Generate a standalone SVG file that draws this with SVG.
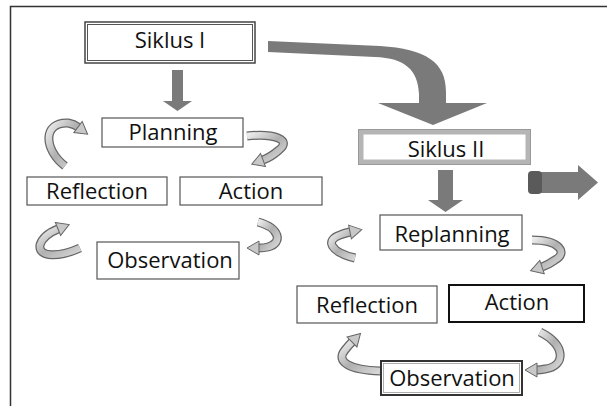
<svg xmlns="http://www.w3.org/2000/svg" width="607" height="406" viewBox="0 0 607 406">
<style>
text{font-family:"Open Sans","Liberation Sans",sans-serif;font-size:22px;fill:#111;text-anchor:middle}
.box{fill:#fff;stroke:#555;stroke-width:1.2}
.big{fill:#7a7a7a}
.ro{fill:none;stroke:#666;stroke-width:9;stroke-linecap:butt}
.ri{fill:none;stroke:url(#rg);stroke-width:6.5;stroke-linecap:butt}
</style>
<defs>
<linearGradient id="rg" x1="0" y1="0" x2="1" y2="1">
<stop offset="0" stop-color="#ececec"/>
<stop offset="0.5" stop-color="#b0b0b0"/>
<stop offset="1" stop-color="#d6d6d6"/>
</linearGradient>
<marker id="h" markerUnits="userSpaceOnUse" markerWidth="14" markerHeight="18" refX="1" refY="8" orient="auto" viewBox="0 0 14 16">
<path d="M1,1 L13,8 L1,15 Z" fill="#c8c8c8" stroke="#666" stroke-width="1"/>
</marker>
</defs>
<g id="frame" fill="none" stroke="#333" stroke-width="1.5">
<path d="M10.5,406 V6.5 H607"/>
</g>
<g id="connectors">
<path class="big" d="M268,41 L380,46 C426,49 446,62 446,92 L446,103 L487,103 L433,125 L378,103 L419,103 L419,94 C418,70 405,58 375,57 L268,52 Z"/>
<path class="big" d="M172,70 H183 V101 H192 L177.5,111 L163,101 H172 Z"/>
<path class="big" d="M438,170 H453 V200 H463 L445.5,212 L428,200 H438 Z"/>
<path class="big" d="M536,172 H578 V165 L598,182.5 L578,200 V193 H536 Z"/>
<rect x="528" y="171" width="14" height="23" rx="4" fill="#5a5a5a"/>
<g id="loop1">
<path class="ro" d="M65,166 C44,150 42,122 68,123 Q74,124 78,127"/>
<path class="ri" d="M65,166 C44,150 42,122 68,123 Q74,124 78,127" marker-end="url(#h)"/>
<path class="ro" d="M247,136 C275,133 292,140 279,150 Q271,157 263,160"/>
<path class="ri" d="M247,136 C275,133 292,140 279,150 Q271,157 263,160" marker-end="url(#h)"/>
<path class="ro" d="M80,248 C60,257 38,258 40,245 Q43,235 58,229"/>
<path class="ri" d="M80,248 C60,257 38,258 40,245 Q43,235 58,229" marker-end="url(#h)"/>
<path class="ro" d="M258,222 C280,228 283,243 268,247 Q264,248 259,248"/>
<path class="ri" d="M258,222 C280,228 283,243 268,247 Q264,248 259,248" marker-end="url(#h)"/>
</g>
<g id="loop2">
<path class="ro" d="M355,258 C330,252 325,240 340,235 Q345,233 350,232"/>
<path class="ri" d="M355,258 C330,252 325,240 340,235 Q345,233 350,232" marker-end="url(#h)"/>
<path class="ro" d="M532,240 C560,240 568,253 555,260 Q548,265 542,267"/>
<path class="ri" d="M532,240 C560,240 568,253 555,260 Q548,265 542,267" marker-end="url(#h)"/>
<path class="ro" d="M380,371 C350,370 335,362 345,350 Q349,345 352,342"/>
<path class="ri" d="M380,371 C350,370 335,362 345,350 Q349,345 352,342" marker-end="url(#h)"/>
<path class="ro" d="M540,332 C566,345 566,366 545,369 Q540,370 537,370"/>
<path class="ri" d="M540,332 C566,345 566,366 545,369 Q540,370 537,370" marker-end="url(#h)"/>
</g>
</g>
<g id="siklus1">
<rect x="85" y="22" width="170" height="41" fill="#fff" stroke="#444" stroke-width="1.5"/>
<rect x="87.5" y="24.5" width="165" height="36" fill="none" stroke="#555" stroke-width="1"/>
<text x="170" y="48">Siklus I</text>
</g>
<g id="planning">
<rect class="box" x="102" y="118" width="141" height="29"/>
<text x="173" y="140">Planning</text>
</g>
<g id="reflection1">
<rect class="box" x="27" y="177" width="140" height="28"/>
<text x="97" y="199">Reflection</text>
</g>
<g id="action1">
<rect class="box" x="180" y="177" width="142" height="28"/>
<text x="251" y="199">Action</text>
</g>
<g id="observation1">
<rect class="box" x="97" y="242" width="142" height="37"/>
<text x="170" y="268">Observation</text>
</g>
<g id="siklus2">
<rect x="361" y="132" width="167" height="30" fill="#fff" stroke="#b5b5b5" stroke-width="5"/>
<rect x="358.5" y="129.5" width="172" height="35" fill="none" stroke="#999" stroke-width="1"/>
<text x="446" y="157">Siklus II</text>
</g>
<g id="replanning">
<rect class="box" x="380" y="215" width="142" height="35"/>
<text x="452" y="242">Replanning</text>
</g>
<g id="reflection2">
<rect class="box" x="297" y="286" width="140" height="37"/>
<text x="367" y="313">Reflection</text>
</g>
<g id="action2">
<rect x="449" y="285" width="135" height="37" fill="#fff" stroke="#111" stroke-width="2"/>
<text x="517" y="310">Action</text>
</g>
<g id="observation2">
<rect x="381" y="361" width="141" height="34" fill="#fff" stroke="#333" stroke-width="2"/>
<rect x="383.5" y="363.5" width="136" height="29" fill="none" stroke="#999" stroke-width="0.8"/>
<text x="452" y="386">Observation</text>
</g>
</svg>
